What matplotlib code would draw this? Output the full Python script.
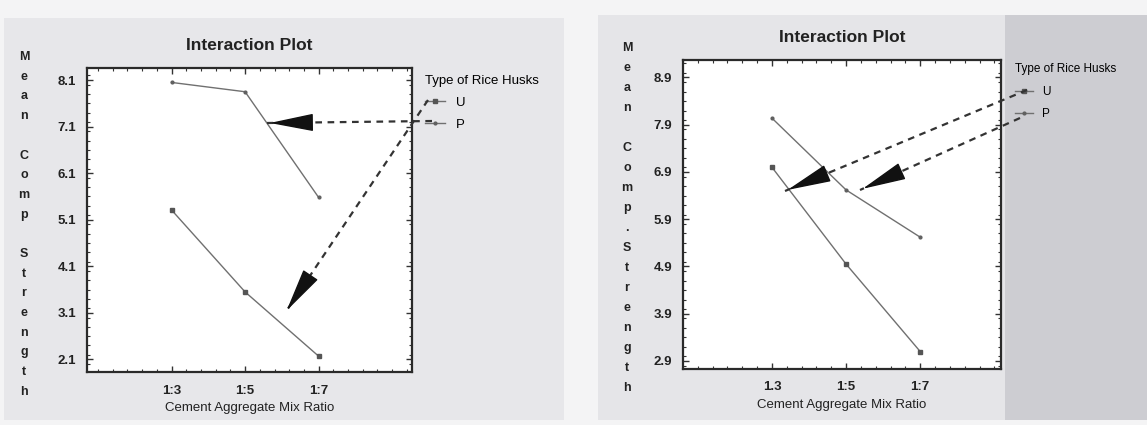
import matplotlib
matplotlib.use("Agg")
import matplotlib.pyplot as plt
from matplotlib.ticker import MultipleLocator
from matplotlib.patches import Rectangle, FancyArrowPatch
from matplotlib.lines import Line2D

plt.rcParams['font.family'] = ['Liberation Sans', 'DejaVu Sans']

# --------------------------- datos -----------------------------------#
ratios = ["1:3", "1:5", "1:7"]
ratios_der = ["1.3", "1:5", "1:7"]

# panel izquierdo
u_izq = [5.31, 3.55, 2.17]
p_izq = [8.05, 7.85, 5.58]
yticks_izq = [2.1, 3.1, 4.1, 5.1, 6.1, 7.1, 8.1]

# panel derecho
u_der = [7.0, 4.95, 3.1]
p_der = [8.04, 6.52, 5.52]
yticks_der = [2.9, 3.9, 4.9, 5.9, 6.9, 7.9, 8.9]

W, H = 1147, 425
fig = plt.figure(figsize=(W / 100, H / 100), dpi=100)
fig.patch.set_facecolor('#f4f4f5')


def px(x, y):
    # pixeles de la imagen (origen arriba a la izquierda) -> fraccion de figura
    return x / W, 1 - y / H


def caja(x0, y0, x1, y1):
    # rectangulo en pixeles -> [left, bottom, width, height]
    return [x0 / W, 1 - y1 / H, (x1 - x0) / W, (y1 - y0) / H]


# fondo escaneado (detras de los ejes)
for x0, y0, x1, y1, col in [(4, 18, 564, 420, '#e7e7ea'),
                            (598, 15, 1147, 420, '#e5e5e8'),
                            (1005, 15, 1147, 420, '#cdcdd2')]:
    fig.patches.append(Rectangle(px(x0, y1), (x1 - x0) / W, (y1 - y0) / H,
                                 transform=fig.transFigure, facecolor=col,
                                 edgecolor='none', zorder=-5))


def panel(pos, u, p, ticklabels, yticks, ylim, xlim):
    ax = fig.add_axes(pos)
    ax.set_zorder(1)
    x = range(len(ticklabels))
    ax.plot(x, u, color='#707070', lw=1.0, marker='s', ms=3.5,
            mfc='#555555', mec='#555555', label='U')
    ax.plot(x, p, color='#707070', lw=1.0, marker='.', ms=4,
            mfc='#606060', mec='#606060', label='P')
    ax.set_xlim(xlim)
    ax.set_ylim(ylim)
    ax.set_xticks(list(x))
    ax.set_xticklabels(ticklabels)
    ax.set_yticks(yticks)
    ax.set_yticklabels(["%.1f" % v for v in yticks])
    ax.yaxis.set_minor_locator(MultipleLocator(0.2))
    ax.xaxis.set_minor_locator(MultipleLocator(0.2))
    ax.tick_params(which='both', direction='in', top=True, right=True,
                   colors='#333333', labelcolor='#222222')
    ax.tick_params(which='major', length=4, width=1.0, labelsize=9.5)
    ax.tick_params(which='minor', length=2.5, width=0.8)
    ax.tick_params(axis='y', pad=8)
    ax.tick_params(axis='x', pad=9)
    for lab in ax.get_xticklabels() + ax.get_yticklabels():
        lab.set_fontweight('bold')
    for s in ax.spines.values():
        s.set_linewidth(1.6)
        s.set_color('#2a2a2a')
    ax.set_facecolor('white')
    ax.set_title('Interaction Plot', fontsize=12.5, fontweight='bold', pad=13, color='#222222')
    ax.set_xlabel('Cement Aggregate Mix Ratio', fontsize=9.5, labelpad=4, color='#222222')
    return ax


ax1 = panel(caja(87, 68, 412, 372), u_izq, p_izq, ratios, yticks_izq,
            (1.83, 8.36), (-1.15, 3.27))
ax2 = panel(caja(683, 60, 1001, 369), u_der, p_der, ratios_der, yticks_der,
            (2.73, 9.27), (-1.2, 3.09))

ax1.legend(title='Type of Rice Husks', loc='upper left', bbox_to_anchor=(1.025, 0.995),
           frameon=False, fontsize=9.5, title_fontsize=9.5, handlelength=1.5,
           labelspacing=0.75, alignment='left', borderaxespad=0, handletextpad=0.8)
ax2.legend(title='Type of Rice Husks', loc='upper left', bbox_to_anchor=(1.03, 1.005),
           frameon=False, fontsize=8.5, title_fontsize=8.5, handlelength=1.5,
           labelspacing=0.9, alignment='left', borderaxespad=0, handletextpad=0.8)

# etiqueta vertical letra a letra
for texto, x0, y0, paso in [("Mean Comp Strength", 24, 57, 19.7),
                            ("Mean Comp.Strength", 627, 48, 20.0)]:
    for i, ch in enumerate(texto):
        fig.text(*px(x0, y0 + i * paso), ch, ha='center', va='center',
                 fontsize=9, fontweight='bold', color='#222222')


# flechas discontinuas dibujadas a mano
def flecha(x0, y0, x1, y1):
    fig.lines.append(Line2D([x0 / W, x1 / W], [1 - y0 / H, 1 - y1 / H],
                            transform=fig.transFigure, color='#333333',
                            lw=1.6, ls=(0, (3, 2.5)), zorder=5))
    dx, dy = x1 - x0, y1 - y0
    n = (dx ** 2 + dy ** 2) ** 0.5
    bx, by = x1 - dx / n * 28, y1 - dy / n * 28
    fig.add_artist(FancyArrowPatch(
        px(bx, by), px(x1, y1), transform=fig.transFigure,
        arrowstyle='-|>,head_length=1.4,head_width=0.28', mutation_scale=20,
        color='#111111', lw=1.0, zorder=6))


flecha(432, 121, 267, 123)
flecha(428, 100, 285, 313)
flecha(1027, 90, 785, 191)
flecha(1020, 118, 860, 190)

fig.savefig('out.png', dpi=100, facecolor=fig.get_facecolor())
